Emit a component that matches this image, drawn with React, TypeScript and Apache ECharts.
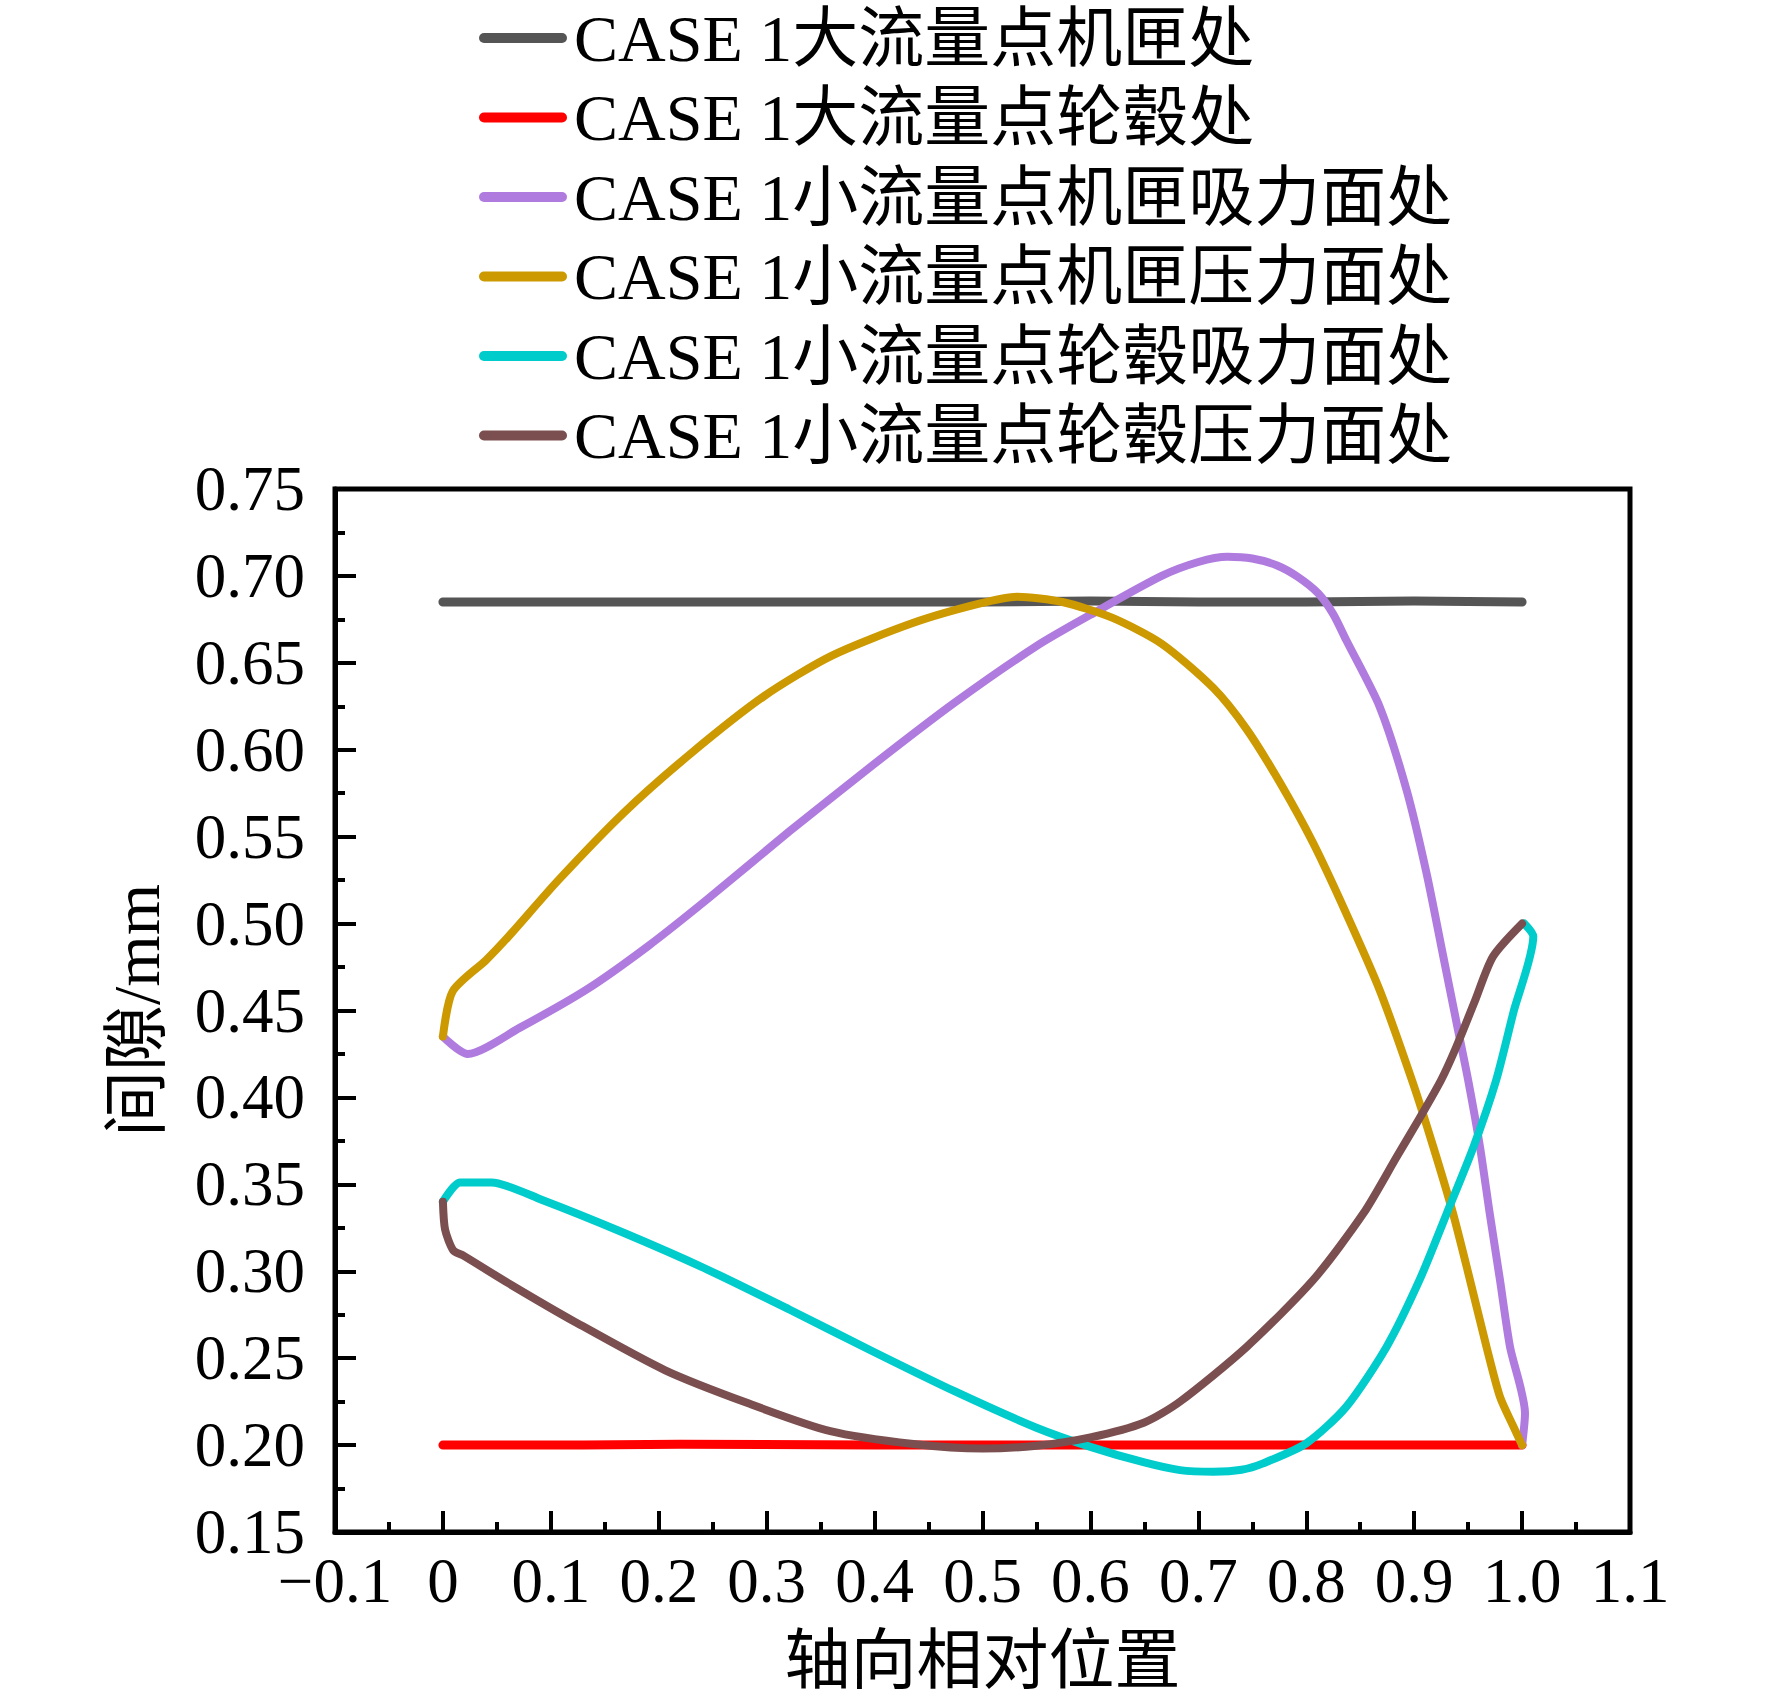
import React, { useEffect, useRef } from "react";
import * as echarts from "echarts";

const seriesNames = [
  "CASE 1大流量点机匣处",
  "CASE 1大流量点轮毂处",
  "CASE 1小流量点机匣吸力面处",
  "CASE 1小流量点机匣压力面处",
  "CASE 1小流量点轮毂吸力面处",
  "CASE 1小流量点轮毂压力面处",
];
const seriesColors = ["#555555", "#FF0000", "#B07BDF", "#CC9900", "#00CCCC", "#7B4F4F"];

const largeShroud = [
  [0, 0.685], [0.1, 0.685], [0.2, 0.685], [0.3, 0.685], [0.4, 0.685], [0.5, 0.685],
  [0.6, 0.6855], [0.7, 0.685], [0.8, 0.685], [0.9, 0.6855], [1.0, 0.685],
];
const largeHub = [
  [0, 0.2], [0.13, 0.2], [0.22, 0.2005], [0.4, 0.2], [0.6, 0.2], [0.8, 0.2], [1.0, 0.2],
];
const smallShroudSuction = [
  [0, 0.435], [0.023, 0.425], [0.071, 0.44], [0.133, 0.462], [0.19, 0.487], [0.245, 0.514],
  [0.321, 0.553], [0.398, 0.591], [0.474, 0.627], [0.551, 0.66], [0.604, 0.679], [0.666, 0.7],
  [0.7, 0.708], [0.727, 0.711], [0.75, 0.71], [0.773, 0.706], [0.792, 0.6995], [0.811, 0.69],
  [0.825, 0.678], [0.837, 0.6631], [0.868, 0.6248], [0.893, 0.5768], [0.9115, 0.5289],
  [0.927, 0.481], [0.9394, 0.4426], [0.95, 0.41], [0.961, 0.3716], [0.97, 0.3333],
  [0.9795, 0.295], [0.9888, 0.2566], [1.0027, 0.2183], [1.0, 0.2],
];
const smallShroudPressure = [
  [0, 0.435], [0.009, 0.461], [0.04, 0.479], [0.06, 0.492], [0.107, 0.525], [0.168, 0.564],
  [0.23, 0.598], [0.298, 0.631], [0.36, 0.654], [0.436, 0.673], [0.497, 0.684], [0.532, 0.688],
  [0.574, 0.685], [0.62, 0.676], [0.666, 0.661], [0.714, 0.6355], [0.745, 0.6116], [0.776, 0.5807],
  [0.8065, 0.5462], [0.837, 0.5059], [0.868, 0.4618], [0.899, 0.408], [0.9177, 0.3716],
  [0.936, 0.3333], [0.9517, 0.295], [0.967, 0.2566], [0.9795, 0.2278], [0.992, 0.2106], [1.0, 0.2],
];
const smallHubSuction = [
  [0, 0.34], [0.016, 0.351], [0.045, 0.351], [0.092, 0.341], [0.168, 0.322], [0.245, 0.301],
  [0.321, 0.278], [0.398, 0.254], [0.474, 0.231], [0.55, 0.21], [0.6, 0.199], [0.65, 0.19],
  [0.683, 0.1856], [0.714, 0.1847], [0.74, 0.1858], [0.76, 0.1895], [0.8, 0.201], [0.837, 0.222],
  [0.8745, 0.2566], [0.905, 0.295], [0.93, 0.333], [0.955, 0.3716], [0.976, 0.41], [0.992, 0.449],
  [1.0104, 0.4925], [1.002, 0.5],
];
const smallHubPressure = [
  [0, 0.34], [0.002, 0.324], [0.0096, 0.312], [0.019, 0.309], [0.061, 0.293], [0.122, 0.271],
  [0.206, 0.243], [0.283, 0.224], [0.359, 0.208], [0.436, 0.2006], [0.5, 0.198], [0.55, 0.1996],
  [0.6, 0.2044], [0.65, 0.213], [0.683, 0.225], [0.745, 0.2566], [0.8065, 0.295], [0.853, 0.3333],
  [0.884, 0.366], [0.905, 0.388], [0.925, 0.41], [0.939, 0.429], [0.956, 0.455], [0.973, 0.481],
  [1.0, 0.5],
];
const seriesData = [
  largeShroud, largeHub, smallShroudSuction, smallShroudPressure, smallHubSuction, smallHubPressure,
];
const seriesWidths = [9, 9, 8, 8, 8, 8];
const seriesSmooth = [0, 0, 0.25, 0.25, 0.25, 0.25];

const xTitle = "轴向相对位置";
const yTitle = "间隙/mm";

const FONT = "'Liberation Serif', 'Times New Roman', 'Noto Sans CJK SC', serif";

export default function App() {
  const ref = useRef<HTMLDivElement>(null);
  useEffect(() => {
    document.body.style.margin = "0";
    const chart = echarts.init(ref.current!, null, { renderer: "svg" });
    const capsule = "path://M5,0 L83,0 A5,5 0 0 1 83,10 L5,10 A5,5 0 0 1 5,0 Z";
    chart.setOption({
      animation: false,
      backgroundColor: "#ffffff",
      grid: {
        left: 335, right: 142, top: 489, bottom: 171,
        show: true, borderColor: "#000", borderWidth: 5, backgroundColor: "transparent",
      },
      legend: {
        orient: "vertical",
        left: 474,
        top: 0,
        itemWidth: 88,
        itemHeight: 10,
        itemGap: 13.5,
        icon: capsule,
        data: seriesNames,
        textStyle: {
          fontFamily: FONT, fontSize: 66, lineHeight: 66, color: "#000",
          padding: [0, 0, 0, 2],
        },
      },
      xAxis: {
        type: "value",
        min: -0.1, max: 1.1, interval: 0.1,
        name: xTitle,
        nameLocation: "middle",
        nameGap: 95,
        nameTextStyle: { fontFamily: FONT, fontSize: 66, color: "#000" },
        axisLine: { onZero: false, lineStyle: { color: "#000", width: 5 } },
        axisTick: { inside: true, length: 21, lineStyle: { color: "#000", width: 4 } },
        minorTick: { show: true, splitNumber: 2, length: 10, lineStyle: { color: "#000", width: 4 } },
        splitLine: { show: false },
        axisLabel: {
          fontFamily: FONT, fontSize: 63, color: "#000", margin: 17,
          formatter: (v: number) => {
            const r = Math.round(v * 10) / 10;
            if (r === 0) return "0";
            if (r < 0) return "\u2212" + Math.abs(r).toFixed(1);
            return r.toFixed(1);
          },
        },
      },
      yAxis: {
        type: "value",
        min: 0.15, max: 0.75, interval: 0.05,
        name: yTitle,
        nameLocation: "middle",
        nameRotate: 90,
        nameGap: 166,
        nameTextStyle: { fontFamily: FONT, fontSize: 66, color: "#000" },
        axisLine: { onZero: false, lineStyle: { color: "#000", width: 5 } },
        axisTick: { inside: true, length: 21, lineStyle: { color: "#000", width: 4 } },
        minorTick: { show: true, splitNumber: 2, length: 10, lineStyle: { color: "#000", width: 4 } },
        splitLine: { show: false },
        axisLabel: {
          fontFamily: FONT, fontSize: 63, color: "#000", margin: 30,
          formatter: (v: number) => (Math.round(v * 100) / 100).toFixed(2),
        },
      },
      series: seriesNames.map((name, i) => ({
        name,
        type: "line",
        data: seriesData[i],
        symbol: "none",
        smooth: seriesSmooth[i],
        color: seriesColors[i],
        lineStyle: { color: seriesColors[i], width: seriesWidths[i], cap: "round", join: "round" },
        itemStyle: { color: seriesColors[i] },
        z: 2 + i,
      })),
    });
    return () => chart.dispose();
  }, []);
  return <div ref={ref} style={{ width: 1772, height: 1703 }} />;
}
